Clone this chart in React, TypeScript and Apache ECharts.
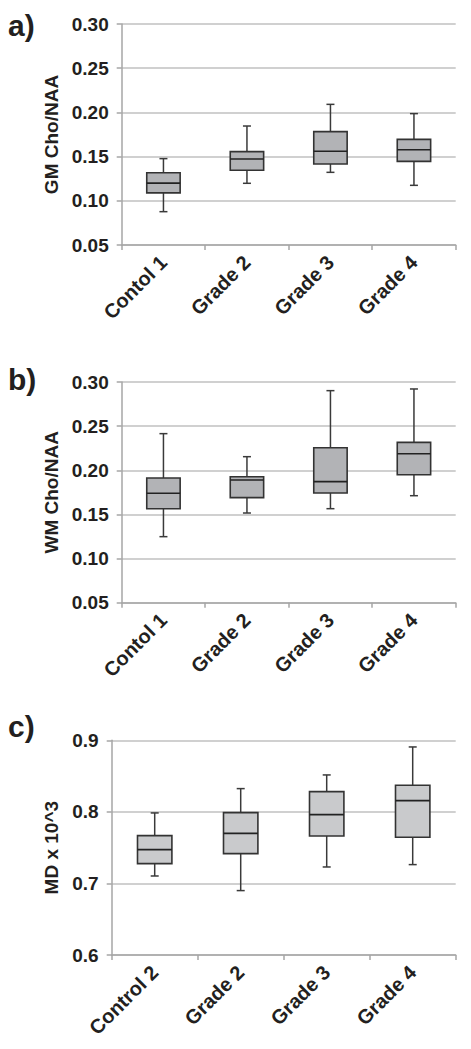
import React, { useEffect, useRef } from "react";
import * as echarts from "echarts";

// ---- data ----
const catsAB = ["Contol 1", "Grade 2", "Grade 3", "Grade 4"];
const catsC = ["Control 2", "Grade 2", "Grade 3", "Grade 4"];

// [low, q1, median, q3, high]
const gmChoNaa = [
  [0.0877, 0.109, 0.12, 0.1318, 0.1477],
  [0.1198, 0.1345, 0.1473, 0.1556, 0.1846],
  [0.1322, 0.1416, 0.156, 0.1782, 0.2091],
  [0.1175, 0.1446, 0.1578, 0.1695, 0.1986],
];
const wmChoNaa = [
  [0.1248, 0.1565, 0.1739, 0.1912, 0.2415],
  [0.1516, 0.169, 0.189, 0.1927, 0.2154],
  [0.1565, 0.1742, 0.1871, 0.2256, 0.2902],
  [0.1712, 0.195, 0.2188, 0.2316, 0.2921],
];
const mdValues = [
  [0.7104, 0.7277, 0.7472, 0.7668, 0.7985],
  [0.69, 0.7416, 0.77, 0.7989, 0.8325],
  [0.723, 0.7663, 0.7961, 0.8283, 0.8516],
  [0.7263, 0.7645, 0.8157, 0.8371, 0.8907],
];

const panelLetters = ["a)", "b)", "c)"];
const yNames = ["GM Cho/NAA", "WM Cho/NAA", "MD x 10^3"];

const TEXT = "#231f20";
const FONT = "'Liberation Sans', Arial, sans-serif";

function makeRender(fill: string) {
  return (params: any, api: any) => {
    const x = api.value(0);
    const lo = api.coord([x, api.value(1)]);
    const q1 = api.coord([x, api.value(2)]);
    const med = api.coord([x, api.value(3)]);
    const q3 = api.coord([x, api.value(4)]);
    const hi = api.coord([x, api.value(5)]);
    const bw = api.size([1, 0])[0] * 0.4;
    const cap = 4;
    const cx = q3[0];
    const lineStyle = { stroke: "#3a3a3a", lineWidth: 1.5 };
    return {
      type: "group",
      children: [
        { type: "line", shape: { x1: cx, y1: hi[1], x2: cx, y2: q3[1] }, style: lineStyle },
        { type: "line", shape: { x1: cx, y1: q1[1], x2: cx, y2: lo[1] }, style: lineStyle },
        { type: "line", shape: { x1: cx - cap, y1: hi[1], x2: cx + cap, y2: hi[1] }, style: lineStyle },
        { type: "line", shape: { x1: cx - cap, y1: lo[1], x2: cx + cap, y2: lo[1] }, style: lineStyle },
        {
          type: "rect",
          shape: { x: cx - bw / 2, y: q3[1], width: bw, height: q1[1] - q3[1] },
          style: { fill, stroke: "#333333", lineWidth: 1.6 },
        },
        { type: "line", shape: { x1: cx - bw / 2, y1: med[1], x2: cx + bw / 2, y2: med[1] }, style: { stroke: "#222", lineWidth: 1.6 } },
      ],
    };
  };
}

export default function App() {
  const ref = useRef<HTMLDivElement>(null);
  useEffect(() => {
    if (!ref.current) return;
    const chart = echarts.init(ref.current, undefined, { renderer: "svg" });

    const grids = [
      { left: 121.7, right: 15.3, top: 24, height: 221 },
      { left: 121.7, right: 15.3, top: 382, height: 220.7 },
      { left: 111.7, right: 15.3, top: 740.3, height: 214.7 },
    ];
    const yCfg = [
      { min: 0.05, max: 0.3, interval: 0.05, dec: 2, gap: 56 },
      { min: 0.05, max: 0.3, interval: 0.05, dec: 2, gap: 56 },
      { min: 0.6, max: 0.9, interval: 0.1, dec: 1, gap: 46 },
    ];
    const cats = [catsAB, catsAB, catsC];
    const datasets = [gmChoNaa, wmChoNaa, mdValues];
    const fills = ["#b2b3b6", "#b2b3b6", "#c9cacc"];
    const letterTops = [10, 364, 711];

    const option: any = {
      animation: false,
      grid: grids,
      xAxis: cats.map((c, i) => ({
        type: "category",
        gridIndex: i,
        data: c,
        axisLine: { lineStyle: { color: "#a6a6a6", width: 1.5 } },
        axisTick: { show: true, length: 5, lineStyle: { color: "#a6a6a6", width: 1.5 } },
        axisLabel: {
          rotate: 45,
          margin: 14,
          interval: 0,
          color: TEXT,
          fontSize: 20,
          fontWeight: "bold",
          fontFamily: FONT,
        },
        splitLine: { show: false },
      })),
      yAxis: yCfg.map((y, i) => ({
        type: "value",
        gridIndex: i,
        min: y.min,
        max: y.max,
        interval: y.interval,
        name: yNames[i],
        nameLocation: "middle",
        nameGap: y.gap,
        nameTextStyle: { color: TEXT, fontSize: 19, fontWeight: "bold", fontFamily: FONT },
        axisLine: { show: true, lineStyle: { color: "#a6a6a6", width: 1.5 } },
        axisTick: { show: true, length: 5, lineStyle: { color: "#a6a6a6", width: 1.5 } },
        axisLabel: {
          margin: 13,
          color: TEXT,
          fontSize: 19,
          fontWeight: "bold",
          fontFamily: FONT,
          formatter: (v: number) => v.toFixed(y.dec),
        },
        splitLine: { show: true, lineStyle: { color: "#c0c0c0", width: 1.6 } },
      })),
      series: datasets.map((d, i) => ({
        type: "custom",
        xAxisIndex: i,
        yAxisIndex: i,
        renderItem: makeRender(fills[i]),
        encode: { x: 0, y: [1, 2, 3, 4, 5] },
        data: d.map((r, j) => [j, ...r]),
        z: 5,
      })),
      graphic: panelLetters.map((t, i) => ({
        type: "text",
        left: 8,
        top: letterTops[i],
        style: { text: t, fill: TEXT, font: `bold 30px ${FONT}` },
      })),
    };
    chart.setOption(option);
    return () => chart.dispose();
  }, []);

  return (
    <div
      ref={ref}
      style={{ position: "absolute", left: 0, top: 0, width: 471, height: 1049, background: "#fff" }}
    />
  );
}
